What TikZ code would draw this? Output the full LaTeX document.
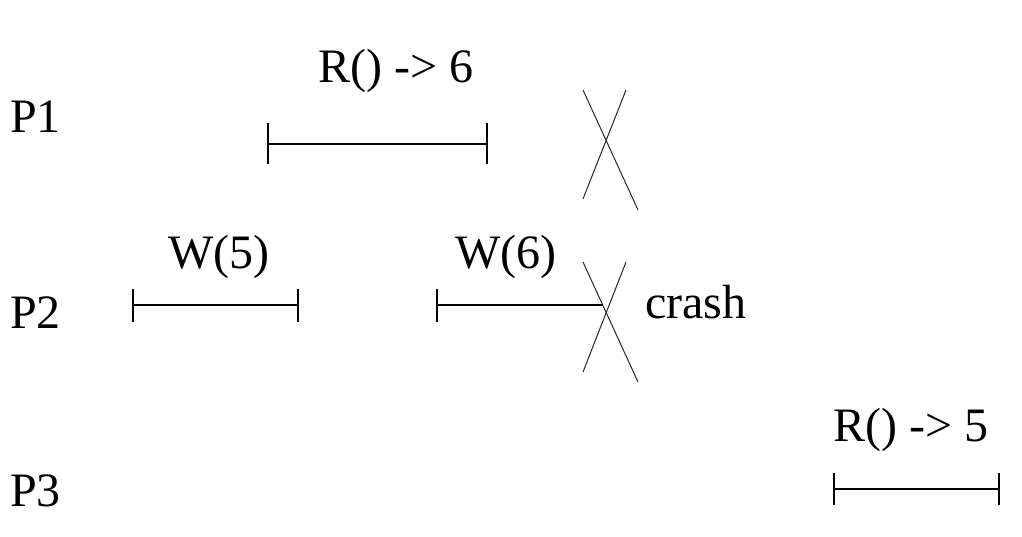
\documentclass[tikz,border=0pt]{standalone}
\usepackage{fontspec}
\setmainfont{Liberation Serif}
\usetikzlibrary{positioning}
\tikzset{
  % --- process names and operation labels ----------------------------------
  proc/.style={anchor=base west,inner sep=0pt,font=\fontsize{48}{56}\selectfont},
  oplab/.style={anchor=base,inner sep=0pt,font=\fontsize{48}{56}\selectfont},
  % --- operation intervals and crashes --------------------------------------
  opline/.style={black,line width=1.1pt},
  crashx/.style={black!85,line width=1pt},
}
\begin{document}
\begin{tikzpicture}[x=1pt, y=-1pt]
  \useasboundingbox (0,0) rectangle (1022,537);

  \node[proc] (p1) at (10,133) {P1};
  \node[proc] (p2) at (10,328) {P2};
  \node[proc] (p3) at (10,506) {P3};

  % P1: read, then crash
  \coordinate (r6s) at (268,144); \coordinate (r6e) at (487,144);
  \draw[opline] (r6s) -- (r6e);
  \draw[opline] ([yshift=21pt]r6s) -- ([yshift=-20pt]r6s);
  \draw[opline] ([yshift=21pt]r6e) -- ([yshift=-20pt]r6e);
  \node[oplab] (lr6) at (396,83) {R() -> 6};
  \coordinate (x1a) at (583,90);  \coordinate (x1b) at (638,210);
  \coordinate (x1c) at (626,90);  \coordinate (x1d) at (583,199);
  \draw[crashx] (x1a) -- (x1b);
  \draw[crashx] (x1c) -- (x1d);

  % P2: two writes, crash inside the second
  \coordinate (w5s) at (133,305); \coordinate (w5e) at (298,305);
  \draw[opline] (w5s) -- (w5e);
  \draw[opline] ([yshift=16pt]w5s) -- ([yshift=-17pt]w5s);
  \draw[opline] ([yshift=16pt]w5e) -- ([yshift=-17pt]w5e);
  \node[oplab] (lw5) at (219,269) {W(5)};
  \coordinate (w6s) at (437,305); \coordinate (w6e) at (603,305);
  \draw[opline] (w6s) -- (w6e);
  \draw[opline] ([yshift=16pt]w6s) -- ([yshift=-17pt]w6s);
  \node[oplab] (lw6) at (506,269) {W(6)};
  \coordinate (x2a) at (583,262); \coordinate (x2b) at (638,382);
  \coordinate (x2c) at (626,262); \coordinate (x2d) at (583,372);
  \draw[crashx] (x2a) -- (x2b);
  \draw[crashx] (x2c) -- (x2d);
  \node[proc] (crash) at (645,318) {crash};

  % P3: later read
  \coordinate (r5s) at (834,489); \coordinate (r5e) at (999,489);
  \draw[opline] (r5s) -- (r5e);
  \draw[opline] ([yshift=16pt]r5s) -- ([yshift=-16pt]r5s);
  \draw[opline] ([yshift=16pt]r5e) -- ([yshift=-16pt]r5e);
  \node[oplab] (lr5) at (911,441) {R() -> 5};
\end{tikzpicture}
\end{document}
